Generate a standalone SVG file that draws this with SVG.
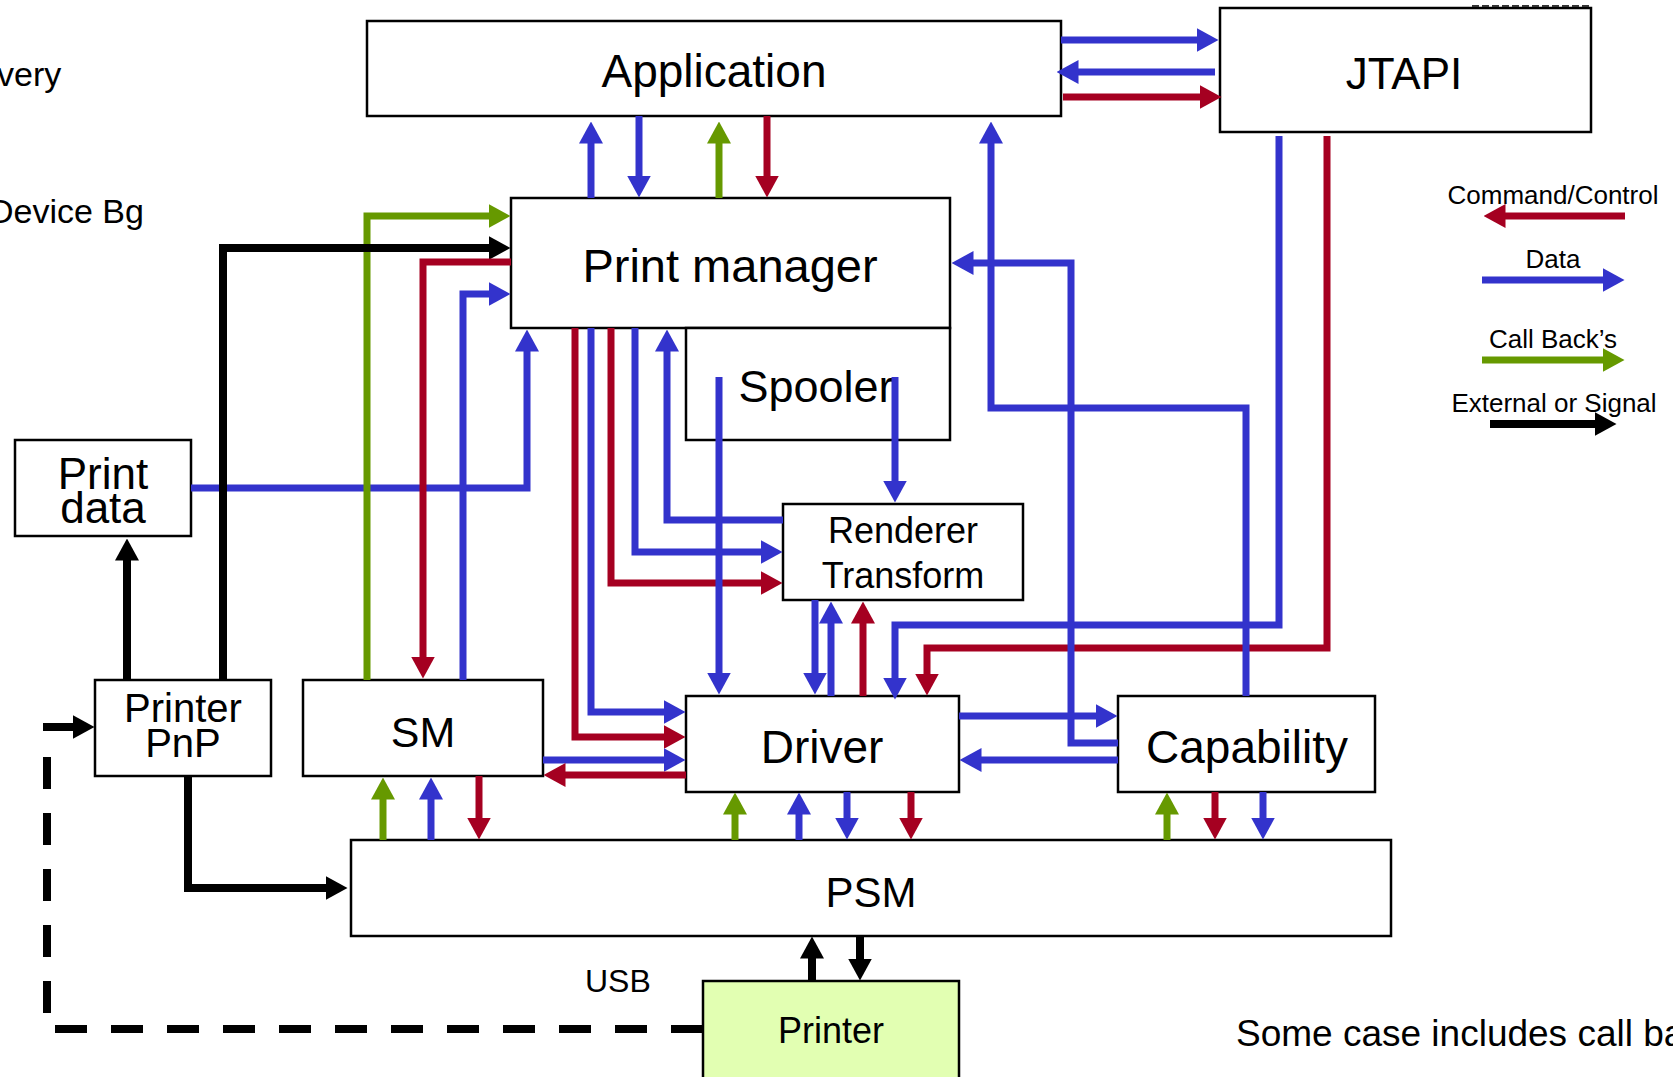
<svg xmlns="http://www.w3.org/2000/svg" width="1673" height="1077" viewBox="0 0 1673 1077">
<style>
.box{fill:#fff;stroke:#000;stroke-width:2.5}
.t{font-family:"Liberation Sans",Arial,sans-serif;fill:#000;text-anchor:middle}
.ts{font-family:"Liberation Sans",Arial,sans-serif;fill:#000}
.c{fill:none;stroke-width:7;stroke-linejoin:miter;stroke-linecap:butt}
.b{stroke:#3333cc}
.r{stroke:#a50021}
.g{stroke:#669900}
.k{stroke:#000;stroke-width:8}
.b2{marker-end:url(#ab)}
.r2{marker-end:url(#ar)}
.g2{marker-end:url(#ag)}
.k2{marker-end:url(#ak)}
</style>
<defs>
<marker id="ab" viewBox="0 0 22 24" refX="0.5" refY="12" markerWidth="22" markerHeight="24" markerUnits="userSpaceOnUse" orient="auto"><path d="M0,0 L22,12 L0,24 z" fill="#3333cc"/></marker>
<marker id="ar" viewBox="0 0 22 24" refX="0.5" refY="12" markerWidth="22" markerHeight="24" markerUnits="userSpaceOnUse" orient="auto"><path d="M0,0 L22,12 L0,24 z" fill="#a50021"/></marker>
<marker id="ag" viewBox="0 0 22 24" refX="0.5" refY="12" markerWidth="22" markerHeight="24" markerUnits="userSpaceOnUse" orient="auto"><path d="M0,0 L22,12 L0,24 z" fill="#669900"/></marker>
<marker id="ak" viewBox="0 0 22 24" refX="0.5" refY="12" markerWidth="22" markerHeight="24" markerUnits="userSpaceOnUse" orient="auto"><path d="M0,0 L22,12 L0,24 z" fill="#000"/></marker>
</defs>
<rect width="1673" height="1077" fill="#fff"/>

<g id="side-texts">
<text class="ts" x="-3" y="86" font-size="34">very</text>
<text class="ts" x="-11" y="223" font-size="34">Device Bg</text>
<text class="ts" x="585" y="992" font-size="32">USB</text>
<text class="ts" x="1236" y="1046" font-size="37">Some case includes call ba</text>
</g>

<g id="application">
<rect class="box" x="367" y="21" width="694" height="95"/>
<text class="t" x="714" y="87" font-size="46">Application</text>
</g>
<g id="jtapi">
<rect class="box" x="1220" y="8" width="371" height="124"/>
<line x1="1472" y1="6" x2="1592" y2="6" stroke="#333" stroke-width="2" stroke-dasharray="7 3"/>
<text class="t" x="1404" y="89" font-size="44">JTAPI</text>
</g>
<g id="print-manager">
<rect class="box" x="511" y="198" width="439" height="130"/>
<text class="t" x="730" y="282" font-size="47">Print manager</text>
</g>
<g id="spooler">
<rect class="box" x="686" y="328" width="264" height="112"/>
<text class="t" x="816" y="402" font-size="45">Spooler</text>
</g>
<g id="print-data">
<rect class="box" x="15" y="440" width="176" height="96"/>
<text class="t" x="103" y="489" font-size="44">Print</text>
<text class="t" x="103" y="523" font-size="44">data</text>
</g>
<g id="renderer-transform">
<rect class="box" x="783" y="504" width="240" height="96"/>
<text class="t" x="903" y="543" font-size="36">Renderer</text>
<text class="t" x="903" y="588" font-size="36">Transform</text>
</g>
<g id="printer-pnp">
<rect class="box" x="95" y="680" width="176" height="96"/>
<text class="t" x="183" y="722" font-size="40">Printer</text>
<text class="t" x="183" y="757" font-size="40">PnP</text>
</g>
<g id="sm">
<rect class="box" x="303" y="680" width="240" height="96"/>
<text class="t" x="423" y="747" font-size="43">SM</text>
</g>
<g id="driver">
<rect class="box" x="686" y="696" width="273" height="96"/>
<text class="t" x="822" y="763" font-size="46">Driver</text>
</g>
<g id="capability">
<rect class="box" x="1118" y="696" width="257" height="96"/>
<text class="t" x="1247" y="763" font-size="46">Capability</text>
</g>
<g id="psm">
<rect class="box" x="351" y="840" width="1040" height="96"/>
<text class="t" x="871" y="907" font-size="42">PSM</text>
</g>
<g id="printer">
<rect x="703" y="981" width="256" height="100" fill="#e2ffb2" stroke="#000" stroke-width="2.5"/>
<text class="t" x="831" y="1043" font-size="36">Printer</text>
</g>

<g id="connectors">
<!-- Application <-> Print manager -->
<path class="c b b2" d="M591,198 V143"/>
<path class="c b b2" d="M639,116 V176"/>
<path class="c g g2" d="M719,198 V143"/>
<path class="c r r2" d="M767,116 V176"/>
<!-- Application <-> JTAPI -->
<path class="c b b2" d="M1061,40 H1197"/>
<path class="c b b2" d="M1215,72 H1078"/>
<path class="c r r2" d="M1063,97 H1200"/>
<!-- JTAPI -> Driver -->
<path class="c b b2" d="M1279,136 V625 H895 V678"/>
<path class="c r r2" d="M1327,136 V648 H927 V674"/>
<!-- Capability -> Application -->
<path class="c b b2" d="M1246,696 V408 H991 V143"/>
<!-- Capability -> Print manager -->
<path class="c b b2" d="M1118,743 H1071 V263 H973"/>
<!-- Driver <-> Capability -->
<path class="c b b2" d="M959,716 H1096"/>
<path class="c b b2" d="M1118,760 H981"/>
<!-- Print data -> Print manager -->
<path class="c b b2" d="M191,488 H527 V351"/>
<!-- Print manager -> Driver / Renderer -->
<path class="c r r2" d="M575,328 V737 H664"/>
<path class="c b b2" d="M591,328 V712 H664"/>
<path class="c r r2" d="M611,328 V583 H761"/>
<path class="c b b2" d="M635,328 V552 H761"/>
<path class="c b b2" d="M783,520 H667 V351"/>
<!-- Spooler -->
<path class="c b b2" d="M719,377 V673"/>
<path class="c b b2" d="M895,377 V481"/>
<!-- Renderer <-> Driver -->
<path class="c b b2" d="M815,600 V673"/>
<path class="c b b2" d="M831,696 V623"/>
<path class="c r r2" d="M863,696 V623"/>
<!-- SM <-> Driver -->
<path class="c b b2" d="M543,760 H664"/>
<path class="c r r2" d="M686,775 H565"/>
<!-- SM / PnP -> Print manager -->
<path class="c g g2" d="M367,680 V216 H489"/>
<path class="c k k2" d="M223,680 V248 H489"/>
<path class="c r r2" d="M511,262 H423 V657"/>
<path class="c b b2" d="M463,680 V294 H489"/>
<!-- PnP -> Print data, PSM -->
<path class="c k k2" d="M127,680 V560"/>
<path class="c k k2" d="M188,776 V888 H326"/>
<!-- Printer -> PnP (dashed) -->
<path class="c k" d="M703,1029 H47 V757" stroke-dasharray="32 24"/>
<path class="c k k2" d="M43,727 H73"/>
<!-- SM <-> PSM -->
<path class="c g g2" d="M383,840 V799"/>
<path class="c b b2" d="M431,840 V799"/>
<path class="c r r2" d="M479,776 V818"/>
<!-- Driver <-> PSM -->
<path class="c g g2" d="M735,840 V814"/>
<path class="c b b2" d="M799,840 V814"/>
<path class="c b b2" d="M847,792 V818"/>
<path class="c r r2" d="M911,792 V818"/>
<!-- Capability <-> PSM -->
<path class="c g g2" d="M1167,840 V814"/>
<path class="c r r2" d="M1215,792 V818"/>
<path class="c b b2" d="M1263,792 V818"/>
<!-- PSM <-> Printer -->
<path class="c k k2" d="M812,981 V958"/>
<path class="c k k2" d="M860,936 V959"/>
</g>

<g id="legend">
<text class="t" x="1553" y="204" font-size="26">Command/Control</text>
<path class="c r r2" d="M1625,216 H1505"/>
<text class="t" x="1553" y="268" font-size="26">Data</text>
<path class="c b b2" d="M1482,280 H1603"/>
<text class="t" x="1553" y="348" font-size="26">Call Back’s</text>
<path class="c g g2" d="M1482,360 H1603"/>
<text class="t" x="1554" y="412" font-size="26">External or Signal</text>
<path class="c k k2" d="M1490,424 H1595"/>
</g>
</svg>
